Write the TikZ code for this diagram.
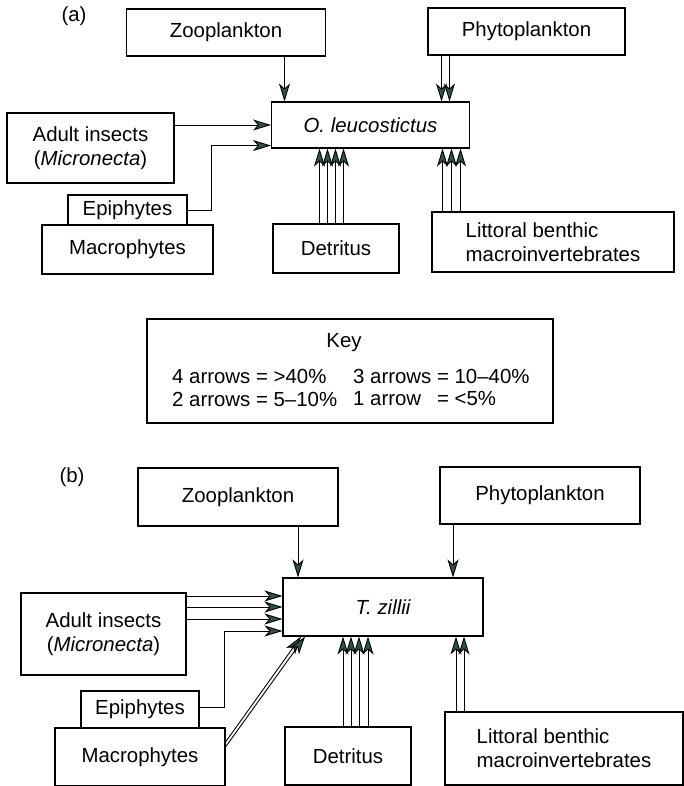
\documentclass[tikz,border=0pt]{standalone}
\usepackage{fontspec}
\setmainfont{Liberation Sans}
\usetikzlibrary{arrows.meta,calc}
\definecolor{arrgreen}{RGB}{45,85,65}
\begin{document}
\begin{tikzpicture}[x=1pt,y=-1pt,
  box/.style={draw,line width=1.1pt,inner sep=0pt,font=\fontsize{20.4}{24}\selectfont,align=center},
  lbl/.style={inner sep=0pt,font=\fontsize{20.4}{24}\selectfont},
  arr/.style={line width=0.9pt,-{Stealth[length=18pt,width=11pt,inset=5pt,fill=arrgreen]}}]
\useasboundingbox (0,0) rectangle (684,786);

% ---------- (a) ----------
\node[lbl] (labA) at (74,16) {(a)};
\node[box,minimum width=199pt,minimum height=47pt] (zooA) at (226,32.5) {Zooplankton};
\node[box,minimum width=197pt,minimum height=47pt] (phyA) at (526.5,31.5) {Phytoplankton};
\node[box,minimum width=198pt,minimum height=46pt] (olA) at (370.5,125) {\itshape O. leucostictus};
\node[box,minimum width=167pt,minimum height=70pt] (adA) at (90.5,148) {Adult insects\\(\textit{Micronecta})};
\node[box,minimum width=119pt,minimum height=30pt] (epiA) at (127.5,210) {Epiphytes};
\node[box,minimum width=171pt,minimum height=49pt] (macA) at (127.5,249.5) {Macrophytes};
\node[box,minimum width=126pt,minimum height=49pt] (detA) at (336,248.5) {Detritus};
\node[box,minimum width=242pt,minimum height=60pt,align=left] (litA) at (553,242) {Littoral benthic\\macroinvertebrates};

% arrows (a)
\path ([xshift=-86pt]olA.north) coordinate (t);
\draw[arr] (zooA.south -| t) -- (t);
\foreach \s in {71,79}{
  \path ([xshift=\s pt]olA.north) coordinate (t);
  \draw[arr] (phyA.south -| t) -- (t);}
\draw[arr] (adA.east |- olA.west) -- (olA.west);
\draw[arr] (epiA.east) -- ++(24,0) |- ([yshift=3pt]olA.south west);
\foreach \s in {-51,-43,-35,-27}{
  \path ([xshift=\s pt]olA.south) coordinate (t);
  \draw[arr] (detA.north -| t) -- (t);}
\foreach \s in {72,81,90}{
  \path ([xshift=\s pt]olA.south) coordinate (t);
  \draw[arr] (litA.north -| t) -- (t);}

% ---------- Key ----------
\node[draw,line width=1.1pt,minimum width=406pt,minimum height=104pt,inner sep=0pt] (keyBox) at (350,371) {};
\node[lbl] (keyT) at (344,343) {Key};
\node[lbl,anchor=west] (k1) at (172,376) {4 arrows = >40\%};
\node[lbl,anchor=west] (k2) at (353,376) {3 arrows = 10--40\%};
\node[lbl,anchor=west] (k3) at (172,399) {2 arrows = 5--10\%};
\node[lbl,anchor=west] (k4) at (353,399) {1 arrow\phantom{s} = <5\%};

% ---------- (b) ----------
\node[lbl] (labB) at (72,477) {(b)};
\node[box,minimum width=200pt,minimum height=58pt] (zooB) at (238,497) {Zooplankton};
\node[box,minimum width=200pt,minimum height=57pt] (phyB) at (540,495.5) {Phytoplankton};
\node[box,minimum width=200pt,minimum height=58pt] (tzB) at (383,607) {\itshape T. zillii};
\node[box,minimum width=165pt,minimum height=82pt] (adB) at (103.5,634) {Adult insects\\(\textit{Micronecta})};
\node[box,minimum width=118pt,minimum height=37pt] (epiB) at (140,709.5) {Epiphytes};
\node[box,minimum width=170pt,minimum height=58pt] (macB) at (140,757) {Macrophytes};
\node[box,minimum width=126pt,minimum height=58pt] (detB) at (348,756) {Detritus};
\node[box,minimum width=238pt,minimum height=73pt,align=left] (litB) at (564,748.5) {Littoral benthic\\macroinvertebrates};

% arrows (b)
\path ([xshift=-85pt]tzB.north) coordinate (t);
\draw[arr] (zooB.south -| t) -- (t);
\path ([xshift=70pt]tzB.north) coordinate (t);
\draw[arr] (phyB.south -| t) -- (t);
\foreach \d in {11,0,-12}{
  \path ([yshift=\d pt]tzB.west) coordinate (t);
  \draw[arr] (adB.east |- t) -- (t);}
\draw[arr] ([yshift=2pt]epiB.east) -- ++(25,0) |- ([yshift=-24pt]tzB.west);
\draw[arr] ([yshift=15pt]macB.east) -- ([xshift=-82pt]tzB.south);
\draw[arr] ([yshift=10pt]macB.east) -- ([xshift=-78pt]tzB.south);
\foreach \s in {-40,-32,-24,-15}{
  \path ([xshift=\s pt]tzB.south) coordinate (t);
  \draw[arr] (detB.north -| t) -- (t);}
\foreach \s in {73,81}{
  \path ([xshift=\s pt]tzB.south) coordinate (t);
  \draw[arr] (litB.north -| t) -- (t);}
\end{tikzpicture}
\end{document}
